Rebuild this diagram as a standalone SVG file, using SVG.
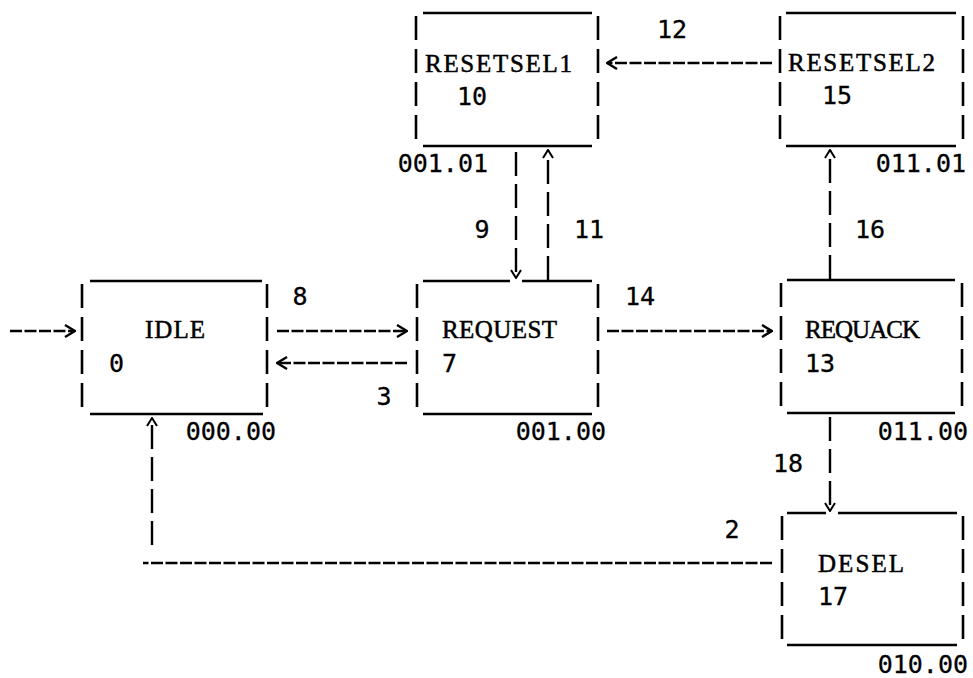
<svg xmlns="http://www.w3.org/2000/svg" width="973" height="678" viewBox="0 0 973 678">
<style>
.bg{fill:#fff}
.edge{stroke:#000;stroke-width:2.6;fill:none;stroke-linecap:butt}
.side{stroke:#000;stroke-width:2.6;fill:none;stroke-dasharray:24 9}
.hd{stroke:#000;stroke-width:2.6;fill:none;stroke-dasharray:12 2.5}
.vd{stroke:#000;stroke-width:2.4;fill:none;stroke-dasharray:24 8}
.name{font-family:"Liberation Serif",serif;font-size:25px;fill:#000;stroke:#000;stroke-width:0.5}
.num{font-family:"DejaVu Sans Mono","Liberation Mono",monospace;font-size:25px;fill:#000;stroke:#000;stroke-width:0.3}
</style>
<defs>
<marker id="ah" viewBox="0 0 12 14" refX="11" refY="7" markerWidth="12" markerHeight="14" markerUnits="userSpaceOnUse" orient="auto">
<path d="M1,1 L11,7 L1,13" fill="none" stroke="#000" stroke-width="2.4"/>
</marker>
<marker id="av" viewBox="0 0 10 12" refX="9" refY="6" markerWidth="10" markerHeight="12" markerUnits="userSpaceOnUse" orient="auto">
<path d="M1,1 L9,6 L1,11" fill="none" stroke="#000" stroke-width="2"/>
</marker>
</defs>
<rect class="bg" x="0" y="0" width="973" height="678"/>

<g id="node-resetsel1">
<path class="edge" d="M423,13 H592 M423,146 H592"/>
<path class="side" d="M416,16 V144 M598,16 V144"/>
<text class="name" x="425" y="72" textLength="147" lengthAdjust="spacing">RESETSEL1</text>
<text class="num" x="457" y="105">10</text>
<text class="num" x="488" y="172" text-anchor="end">001.01</text>
</g>

<g id="node-resetsel2">
<path class="edge" d="M786,13 H956 M786,146 H956"/>
<path class="side" d="M780,16 V144 M963,16 V144"/>
<text class="name" x="788" y="71" textLength="147" lengthAdjust="spacing">RESETSEL2</text>
<text class="num" x="822" y="104">15</text>
<text class="num" x="966" y="172" text-anchor="end">011.01</text>
</g>

<g id="node-idle">
<path class="edge" d="M90,281 H262 M90,414 H263"/>
<path class="side" d="M82,284 V412 M267,284 V412"/>
<text class="name" x="145" y="338" textLength="60" lengthAdjust="spacing">IDLE</text>
<text class="num" x="109" y="372">0</text>
<text class="num" x="276" y="440" text-anchor="end">000.00</text>
</g>

<g id="node-request">
<path class="edge" d="M423,281 H510 M522,281 H592 M423,414 H592"/>
<path class="side" d="M417,284 V412 M598,284 V412"/>
<text class="name" x="442" y="338" textLength="115" lengthAdjust="spacing">REQUEST</text>
<text class="num" x="442" y="372">7</text>
<text class="num" x="606" y="440" text-anchor="end">001.00</text>
</g>

<g id="node-requack">
<path class="edge" d="M787,280 H955 M787,413 H955"/>
<path class="side" d="M781,283 V411 M962,283 V411"/>
<text class="name" x="805" y="338" textLength="115" lengthAdjust="spacing">REQUACK</text>
<text class="num" x="805" y="372">13</text>
<text class="num" x="968" y="440" text-anchor="end">011.00</text>
</g>

<g id="node-desel">
<path class="edge" d="M787,513 H826 M838,513 H957 M787,645 H957"/>
<path class="side" d="M782,516 V644 M963,516 V644"/>
<text class="name" x="818" y="572" textLength="86" lengthAdjust="spacing">DESEL</text>
<text class="num" x="818" y="605">17</text>
<text class="num" x="968" y="673" text-anchor="end">010.00</text>
</g>

<g id="connectors">
<line class="hd" x1="10" y1="331" x2="75" y2="331" marker-end="url(#ah)"/>
<line class="hd" x1="277" y1="331" x2="407" y2="331" marker-end="url(#ah)"/>
<line class="hd" x1="407" y1="363" x2="277" y2="363" marker-end="url(#ah)"/>
<line class="hd" x1="607" y1="331" x2="772" y2="331" marker-end="url(#ah)"/>
<line class="hd" x1="772" y1="63" x2="607" y2="63" marker-end="url(#ah)"/>
<line class="vd" x1="516" y1="152" x2="516" y2="278" marker-end="url(#av)"/>
<line class="vd" x1="548" y1="280" x2="548" y2="150" marker-end="url(#av)"/>
<line class="vd" x1="830" y1="279" x2="830" y2="150" marker-end="url(#av)"/>
<line class="vd" x1="830" y1="417" x2="830" y2="511" marker-end="url(#av)"/>
<line class="hd" x1="772" y1="563" x2="143" y2="563"/>
<line class="vd" x1="152" y1="545" x2="152" y2="418" marker-end="url(#av)"/>
<text class="num" x="300" y="305" text-anchor="middle">8</text>
<text class="num" x="384" y="405" text-anchor="middle">3</text>
<text class="num" x="625" y="305">14</text>
<text class="num" x="657" y="38">12</text>
<text class="num" x="482" y="238" text-anchor="middle">9</text>
<text class="num" x="574" y="238">11</text>
<text class="num" x="855" y="238">16</text>
<text class="num" x="773" y="472">18</text>
<text class="num" x="732" y="538" text-anchor="middle">2</text>
</g>
</svg>
